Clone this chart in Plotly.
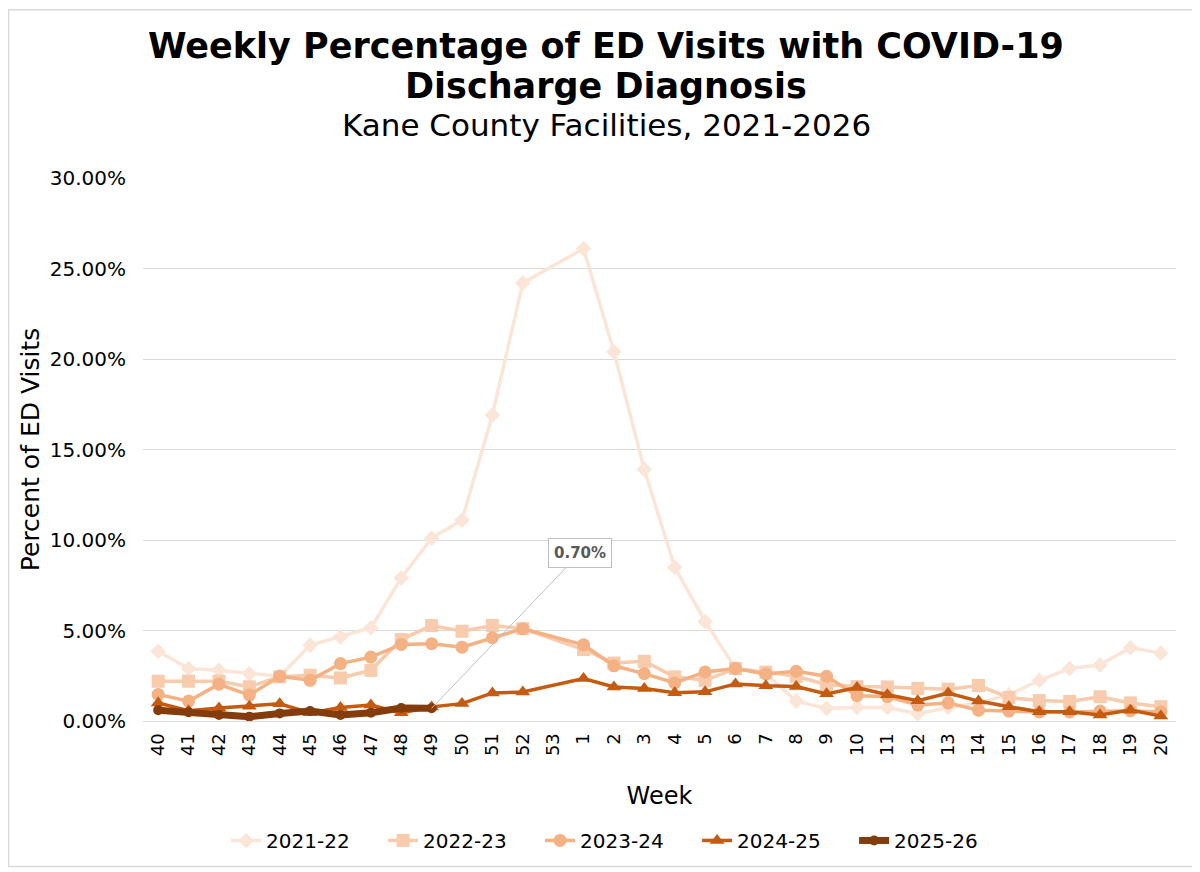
import plotly.graph_objects as go

# week labels for the season (week 53 only exists in some seasons)
weeks = [str(w) for w in range(40, 54)] + [str(w) for w in range(1, 21)]

# percent of ED visits (None = no data)
s2021_22 = [3.85, 2.9, 2.8, 2.62, 2.47, 4.18, 4.65, 5.15, 7.9, 10.1, 11.1, 16.9, 24.2, None,
            26.1, 20.4, 13.9, 8.5, 5.5, 2.9, 2.6, 1.1, 0.7, 0.75,
            0.75, 0.4, 0.75, 1.0, 1.45, 2.25, 2.9, 3.1, 4.05, 3.75]
s2022_23 = [2.2, 2.2, 2.2, 1.89, 2.44, 2.53, 2.38, 2.8, 4.5, 5.27, 4.96, 5.28, 5.1, None,
            3.95, 3.2, 3.3, 2.44, 2.25, 2.9, 2.7, 2.47, 2.0, 1.9,
            1.88, 1.8, 1.76, 1.96, 1.3, 1.13, 1.08, 1.34, 1.0, 0.79]
s2023_24 = [1.47, 1.1, 2.03, 1.43, 2.47, 2.25, 3.17, 3.53, 4.23, 4.27, 4.08, 4.6, 5.1, None,
            4.21, 3.05, 2.62, 2.1, 2.71, 2.9, 2.6, 2.75, 2.47, 1.4,
            1.35, 0.88, 1.0, 0.6, 0.55, 0.5, 0.5, 0.55, 0.57, 0.5]
s2024_25 = [1.0, 0.57, 0.72, 0.82, 0.95, 0.45, 0.75, 0.88, 0.45, 0.78, 0.96, 1.55, 1.6, None,
            2.35, 1.88, 1.8, 1.56, 1.61, 2.05, 1.95, 1.9, 1.5, 1.85,
            1.45, 1.12, 1.55, 1.1, 0.79, 0.51, 0.51, 0.33, 0.6, 0.27]
s2025_26 = [0.6, 0.48, 0.33, 0.24, 0.42, 0.55, 0.33, 0.46, 0.72, 0.70]

seasons = ["2021-22", "2022-23", "2023-24", "2024-25", "2025-26"]
values = [s2021_22, s2022_23, s2023_24, s2024_25, s2025_26]
colors = ["#FBE5D6", "#F8CBAD", "#F4B183", "#C55A11", "#843C0C"]
symbols = ["diamond", "square", "circle", "triangle-up", "circle"]
widths = [3.5, 3.5, 3.5, 3.5, 7]
msizes = [12, 13, 13, 13, 10]

fig = go.Figure()
for name, vals, col, sym, w, ms in zip(seasons, values, colors, symbols, widths, msizes):
    fig.add_trace(go.Scatter(
        x=weeks[:len(vals)],
        y=[v / 100 if v is not None else None for v in vals],
        name=name,
        mode="lines+markers",
        connectgaps=True,
        line=dict(color=col, width=w),
        marker=dict(symbol=sym, size=ms, color=col),
    ))

# callout on latest value (category axes want the index here)
last = len(s2025_26) - 1
fig.add_annotation(
    x=last, y=s2025_26[-1] / 100,
    text="<b>%.2f%%</b>" % s2025_26[-1],
    showarrow=True, arrowhead=0, arrowcolor="#BFBFBF", arrowwidth=1,
    ax=148, ay=-155,
    bordercolor="#BFBFBF", borderwidth=1, borderpad=5, bgcolor="white",
    font=dict(size=15, color="#595959"),
)

# title lines, centred on the whole figure
tx = (592 - 135) / 1033
fig.add_annotation(xref="paper", yref="paper", x=tx + 0.006, y=1.243, yanchor="middle", showarrow=False,
                   text="<b>Weekly Percentage of ED Visits with COVID-19</b>",
                   font=dict(size=35, color="black"))
fig.add_annotation(xref="paper", yref="paper", x=tx + 0.006, y=1.170, yanchor="middle", showarrow=False,
                   text="<b>Discharge Diagnosis</b>",
                   font=dict(size=35, color="black"))
fig.add_annotation(xref="paper", yref="paper", x=tx + 0.006, y=1.097, yanchor="middle", showarrow=False,
                   text="Kane County Facilities, 2021-2026",
                   font=dict(size=31, color="black"))

# light frame round the whole chart
fig.add_shape(type="rect", xref="paper", yref="paper",
              x0=-0.1302, x1=1.0226, y0=-0.2678, y1=1.3099,
              line=dict(color="#D9D9D9", width=1.5))

fig.update_layout(
    width=1192, height=864,
    paper_bgcolor="white", plot_bgcolor="white",
    font=dict(family="DejaVu Sans, Verdana, sans-serif", color="#000000"),
    margin=dict(l=135, r=24, t=170, b=147),
    legend=dict(orientation="h", x=tx + 0.018, xanchor="center", y=-0.22, yanchor="middle",
                font=dict(size=20), entrywidth=112, entrywidthmode="pixels"),
    showlegend=True,
    xaxis=dict(
        type="category", categoryorder="array", categoryarray=weeks,
        range=[-0.5, len(weeks) - 0.5], dtick=1,
        tickangle=-90, tickfont=dict(size=18), ticklabelstandoff=4,
        title=dict(text="Week", font=dict(size=24), standoff=32),
        showgrid=False, showline=True, linecolor="#D9D9D9", ticks="",
    ),
    yaxis=dict(
        range=[0, 0.30], dtick=0.05, tickformat=".2%",
        tickfont=dict(size=20), ticklabelstandoff=16,
        title=dict(text="Percent of ED Visits", font=dict(size=25), standoff=2),
        showgrid=True, gridcolor="#D9D9D9", zeroline=False, ticks="",
    ),
)

fig.write_html("out.html")
